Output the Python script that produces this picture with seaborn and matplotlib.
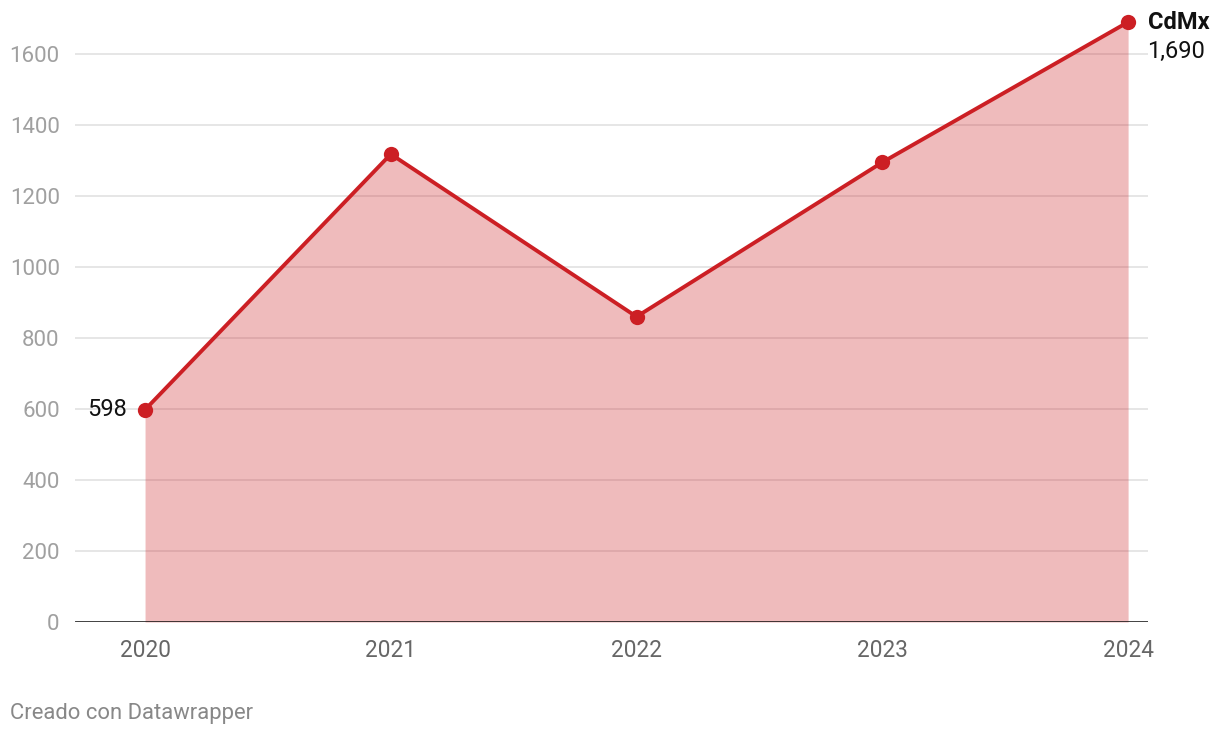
import matplotlib
matplotlib.use("Agg")
import matplotlib.pyplot as plt
import seaborn as sns
import pandas as pd

sns.set_theme(style="white")
plt.rcParams["font.family"] = ["Roboto", "DejaVu Sans"]

# datos
anios = [2020, 2021, 2022, 2023, 2024]
cdmx = [598, 1318, 860, 1295, 1690]
y_ticks = [0, 200, 400, 600, 800, 1000, 1200, 1400, 1600]

df = pd.DataFrame({"anio": anios, "valor": cdmx})

rojo = "#cc1f24"

fig = plt.figure(figsize=(12.2, 7.38), dpi=100)
ax = fig.add_axes([75 / 1220, 1 - 622 / 738, (1148 - 75) / 1220, 612 / 738])

ax.set_yticks(y_ticks)
ax.grid(axis="y", color="#e2e2e2", lw=1.2, zorder=0)
ax.set_axisbelow(True)

ax.fill_between(df["anio"], df["valor"], 0, color=rojo, alpha=0.3, lw=0, zorder=1)
sns.lineplot(data=df, x="anio", y="valor", color=rojo, lw=2.8, marker="o",
             markersize=11, markeredgewidth=0, ax=ax, zorder=3, clip_on=False)

ax.axhline(0, color="#111111", lw=1.8, zorder=4)

ax.set_xlim(2019.715, 2024.081)
ax.set_ylim(0, 1724)
ax.set_xticks(anios)
ax.set_xticklabels([str(a) for a in anios])
ax.set_xlabel("")
ax.set_ylabel("")
for s in ax.spines.values():
    s.set_visible(False)
ax.tick_params(axis="y", length=0, pad=11, labelsize=16, labelcolor="#a0a0a0")
ax.tick_params(axis="x", length=0, pad=12, labelsize=16.3, labelcolor="#666666")

# etiquetas
ax.annotate("CdMx", (anios[-1], cdmx[-1]), xytext=(14, 0), textcoords="offset points",
            ha="left", va="center", fontsize=17, fontweight="bold", color="#111111",
            annotation_clip=False)
ax.annotate(f"{cdmx[-1]:,}", (anios[-1], cdmx[-1]), xytext=(14, -21), textcoords="offset points",
            ha="left", va="center", fontsize=17, color="#111111", annotation_clip=False)
ax.annotate(f"{cdmx[0]}", (anios[0], cdmx[0]), xytext=(-13, 0), textcoords="offset points",
            ha="right", va="center", fontsize=17, color="#111111", annotation_clip=False)

fig.text(10 / 1220, 1 - 714 / 738, "Creado con Datawrapper", fontsize=15.8,
         color="#888888", ha="left", va="center")

fig.savefig("out.png", dpi=100)
